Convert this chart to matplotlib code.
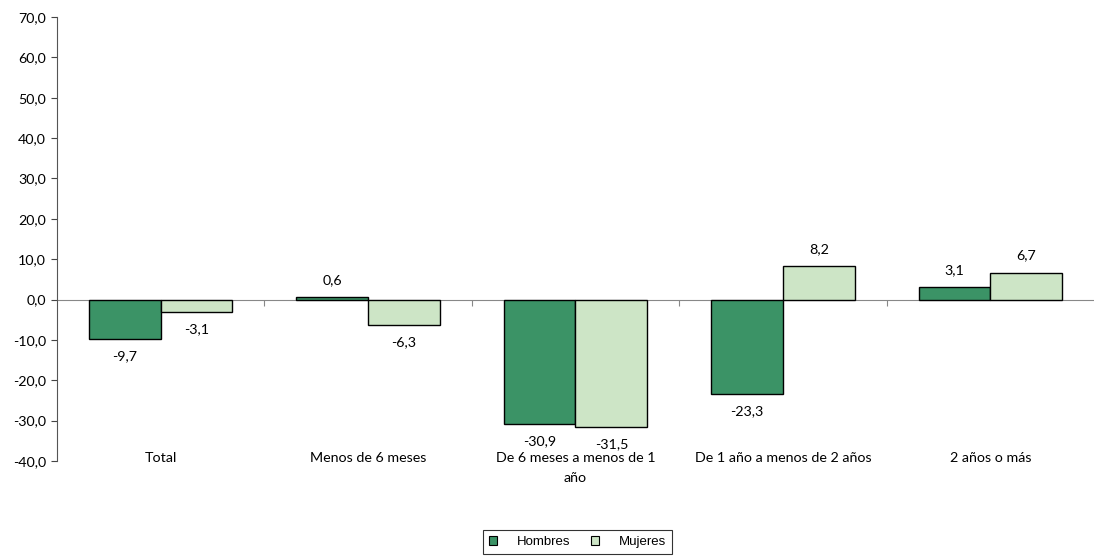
import matplotlib
matplotlib.use("Agg")
import matplotlib.pyplot as plt
import numpy as np
from matplotlib.transforms import blended_transform_factory
from matplotlib.patches import Patch

categories = ["Total", "Menos de 6 meses", "De 6 meses a menos de 1\naño",
              "De 1 año a menos de 2 años", "2 años o más"]
hombres = [-9.7, 0.6, -30.9, -23.3, 3.1]
mujeres = [-3.1, -6.3, -31.5, 8.2, 6.7]
series_names = ["Hombres", "Mujeres"]
yticks = [-40, -30, -20, -10, 0, 10, 20, 30, 40, 50, 60, 70]

c_h = "#3B9366"
c_m = "#CDE5C6"
font = "Lato"
fs = 10.3

fig = plt.figure(figsize=(10.94, 5.60), dpi=100)
ax = fig.add_axes([0.052, 0.1768, 0.948, 0.7928])

x = np.arange(len(categories))
w = 0.346
bh = ax.bar(x - w / 2, hombres, w, color=c_h, edgecolor="black", linewidth=1.0, zorder=3)
bm = ax.bar(x + w / 2, mujeres, w, color=c_m, edgecolor="black", linewidth=1.0, zorder=3)

def fmt(v):
    return f"{v:.1f}".replace(".", ",")

for bars, vals in ((bh, hombres), (bm, mujeres)):
    for b, v in zip(bars, vals):
        cx = b.get_x() + b.get_width() / 2
        if v >= 0:
            ax.annotate(fmt(v), (cx, v), xytext=(0, 8), textcoords="offset points",
                        ha="center", va="bottom", fontsize=fs, family=font)
        else:
            ax.annotate(fmt(v), (cx, v), xytext=(0, -8), textcoords="offset points",
                        ha="center", va="top", fontsize=fs, family=font)

ax.set_xlim(-0.5, len(categories) - 0.5)
ax.set_ylim(-40, 70)
ax.set_yticks(yticks)
ax.set_yticklabels([fmt(t) for t in yticks], family=font, fontsize=fs)
ax.tick_params(axis="y", direction="out", length=4, color="#444444", pad=4)

ax.spines["top"].set_visible(False)
ax.spines["right"].set_visible(False)
ax.spines["left"].set_color("#555555")
ax.spines["bottom"].set_position(("data", 0))
ax.spines["bottom"].set_color("#888888")
ax.spines["bottom"].set_linewidth(0.8)
ax.spines["bottom"].set_zorder(2)
ax.set_xticks(np.arange(0.5, len(categories) - 0.5, 1.0))
ax.set_xticklabels([])
ax.tick_params(axis="x", direction="out", length=4, color="#888888")

trans = blended_transform_factory(ax.transData, ax.transAxes)
for i, c in enumerate(categories):
    ax.text(i, 0.02, c, transform=trans, ha="center", va="top",
            fontsize=fs, family=font, linespacing=1.75)

handles = [Patch(facecolor=c_h, edgecolor="black", linewidth=0.8),
           Patch(facecolor=c_m, edgecolor="black", linewidth=0.8)]
leg = fig.legend(handles, series_names, loc="center", bbox_to_anchor=(0.528, 0.032),
                 ncol=2, fancybox=False, frameon=True, edgecolor="black",
                 prop={"family": "Liberation Sans", "size": 9.5},
                 handlelength=0.6, handleheight=0.6, handletextpad=1.5,
                 columnspacing=1.6, borderpad=0.45)
leg.get_frame().set_linewidth(0.8)

fig.savefig("out.png", dpi=100)
